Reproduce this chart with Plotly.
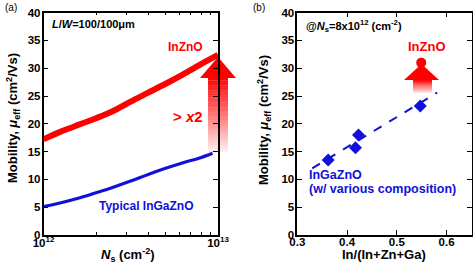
import plotly.graph_objects as go

# ---------------- data ----------------
# panel (a): mobility vs sheet carrier density
ns_inzno = [1.0e12, 1.26e12, 1.58e12, 2.0e12, 2.51e12, 3.16e12, 3.98e12, 5.01e12, 6.31e12, 7.94e12, 1.0e13]
mu_inzno = [17.2, 18.6, 19.8, 21.0, 22.3, 24.0, 25.6, 27.2, 28.9, 30.7, 32.4]
ns_igzo = [1.0e12, 1.26e12, 1.58e12, 2.0e12, 2.51e12, 3.16e12, 3.98e12, 5.01e12, 6.31e12, 7.94e12, 9.3e12]
mu_igzo = [5.1, 5.8, 6.6, 7.6, 8.6, 9.7, 10.9, 12.0, 13.0, 13.9, 14.7]

# panel (b): mobility vs In ratio at Ns = 8e12
in_ratio_igzo = [0.362, 0.417, 0.423, 0.547]
mu_ratio_igzo = [13.5, 15.7, 18.0, 23.2]
in_ratio_inzno = [0.549]
mu_ratio_inzno = [31.0]
fit_x = [0.33, 0.581]
fit_y = [12.0, 25.6]

x_ticks_a = [1e12, 1e13]
x_ticktext_a = ["10<sup>12</sup>", "10<sup>13</sup>"]
x_minor_a = [2e12, 3e12, 4e12, 5e12, 6e12, 7e12, 8e12, 9e12]

RED = "#ff0000"
BLUE = "#1010d8"
FONT = "Liberation Sans, Arial, sans-serif"
W, H = 473, 265


def px(x):
    return x / W


def py(y):
    return 1 - y / H


fig = go.Figure()

fig.add_trace(go.Scatter(x=ns_inzno, y=mu_inzno, mode="lines",
                         line=dict(color=RED, width=6, shape="spline"), xaxis="x", yaxis="y",
                         name="InZnO", showlegend=False))
fig.add_trace(go.Scatter(x=ns_igzo, y=mu_igzo, mode="lines",
                         line=dict(color=BLUE, width=3.2, shape="spline"), xaxis="x", yaxis="y",
                         name="Typical InGaZnO", showlegend=False))

fig.add_trace(go.Scatter(x=fit_x, y=fit_y, mode="lines",
                         line=dict(color=BLUE, width=2, dash="dash"),
                         xaxis="x2", yaxis="y2", showlegend=False, name="fit"))
fig.add_trace(go.Scatter(x=in_ratio_igzo, y=mu_ratio_igzo, mode="markers",
                         marker=dict(symbol="diamond", size=10, color=BLUE),
                         xaxis="x2", yaxis="y2", showlegend=False, name="InGaZnO"))
fig.add_trace(go.Scatter(x=in_ratio_inzno, y=mu_ratio_inzno, mode="markers",
                         marker=dict(symbol="circle", size=10, color=RED),
                         xaxis="x2", yaxis="y2", showlegend=False, name="InZnO"))

axis_common = dict(showline=True, linewidth=1.5, linecolor="black", mirror="ticks",
                   ticks="inside", ticklen=5, tickwidth=1.2, tickcolor="black",
                   showgrid=False, zeroline=False, automargin=False,
                   tickfont=dict(family=FONT, size=11.5, color="black", weight="bold"))

fig.update_layout(
    width=W, height=H,
    margin=dict(l=0, r=0, t=0, b=0, autoexpand=False),
    paper_bgcolor="white", plot_bgcolor="rgba(0,0,0,0)",
    xaxis=dict(type="log", range=[12, 13], domain=[px(43.5), px(218)], anchor="y",
               tickvals=x_ticks_a, ticktext=x_ticktext_a, ticklabelstandoff=-4,
               minor=dict(tickvals=x_minor_a, ticks="inside", ticklen=3, tickcolor="black"),
               **axis_common),
    yaxis=dict(range=[0, 40], dtick=5, domain=[py(235), py(12.6)], anchor="x",
               ticklabelstandoff=-1, **axis_common),
    xaxis2=dict(range=[0.3, 0.65], tick0=0.3, dtick=0.1, tickformat=".1f",
                domain=[px(297.3), px(471.5)], anchor="y2", ticklabelstandoff=-5,
                **axis_common),
    yaxis2=dict(range=[0, 40], dtick=5, domain=[py(235), py(12.6)], anchor="x2",
                ticklabelstandoff=-1, **axis_common),
)

# ---------- gradient arrows (decoration) ----------
shapes = []


def grad_arrow(xl, xr, hx0, hx1, tip_y, base_y, bottom_y, n=30):
    tipx = (hx0 + hx1) / 2
    for i in range(n):
        y0 = base_y + (bottom_y - base_y) * i / n
        y1 = base_y + (bottom_y - base_y) * (i + 1) / n
        a = 1.0 - 0.95 * (i + 0.5) / n
        shapes.append(dict(type="rect", xref="paper", yref="paper",
                           x0=px(xl), x1=px(xr), y0=py(y1), y1=py(y0) + 0.0005,
                           fillcolor=f"rgba(255,0,0,{a:.3f})", line=dict(width=0),
                           layer="below"))
    path = f"M {px(hx0)} {py(base_y)} L {px(tipx)} {py(tip_y)} L {px(hx1)} {py(base_y)} Z"
    shapes.append(dict(type="path", xref="paper", yref="paper", path=path,
                       fillcolor=RED, line=dict(width=0), layer="below"))


grad_arrow(208, 228, 200, 236, 57, 78, 152)
grad_arrow(413, 432, 404, 439, 64, 80, 93, n=12)
fig.update_layout(shapes=shapes)

# ---------- annotations (axis titles and labels) ----------
ytitle = "Mobility, <i>μ</i><sub>eff</sub> (cm<sup>2</sup>/Vs)"
ann = [
    dict(x=px(13), y=py(118), text=ytitle, textangle=-90, font=dict(size=13, weight="bold")),
    dict(x=px(264), y=py(120), text=ytitle, textangle=-90, font=dict(size=13, weight="bold")),
    dict(x=px(128), y=py(255), text="<i>N</i><sub>s</sub> (cm<sup>-2</sup>)",
         font=dict(size=13, weight="bold")),
    dict(x=px(384), y=py(254), text="In/(In+Zn+Ga)", font=dict(size=13, weight="bold")),
    dict(x=px(11), y=py(8), text="(a)", font=dict(size=10)),
    dict(x=px(259), y=py(8), text="(b)", font=dict(size=10)),
    dict(x=px(93), y=py(24), text="<i>L</i>/<i>W</i>=100/100μm",
         font=dict(size=11, weight="bold")),
    dict(x=px(185), y=py(47), text="InZnO", font=dict(size=12, color=RED, weight="bold")),
    dict(x=px(188), y=py(116), text="> <i>x</i>2", font=dict(size=15, color=RED, weight="bold")),
    dict(x=px(146), y=py(206), text="Typical InGaZnO", font=dict(size=12, color=BLUE, weight="bold")),
    dict(x=px(354), y=py(26), text="@<i>N</i><sub>s</sub>=8x10<sup>12</sup> (cm<sup>-2</sup>)",
         font=dict(size=11, weight="bold")),
    dict(x=px(427), y=py(47), text="InZnO", font=dict(size=13, color=RED, weight="bold")),
    dict(x=px(307), y=py(175), text="InGaZnO", xanchor="left",
         font=dict(size=12.5, color=BLUE, weight="bold")),
    dict(x=px(307), y=py(189), text="(w/ various composition)", xanchor="left",
         font=dict(size=12.5, color=BLUE, weight="bold")),
]
for a in ann:
    a.setdefault("xanchor", "center")
    a["font"].setdefault("family", FONT)
    a["font"].setdefault("color", "black")
    fig.add_annotation(xref="paper", yref="paper", showarrow=False, yanchor="middle", **a)

# remove the browser's default 8px body margin so the figure fills the window
fig.write_html("out.html", config={"displayModeBar": False},
               post_script="document.body.style.margin='0';")
